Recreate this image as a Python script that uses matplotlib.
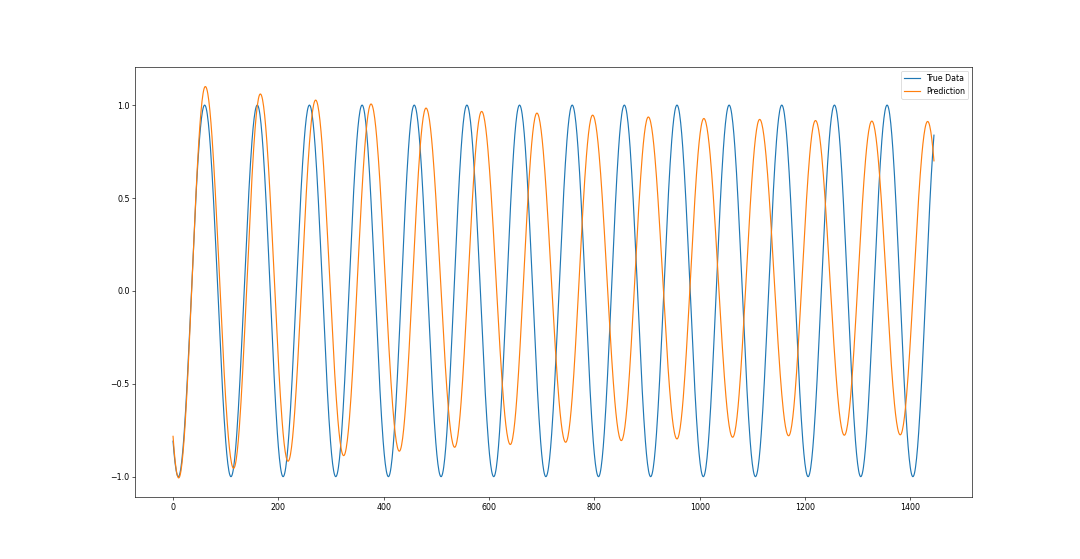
import numpy as np
import matplotlib.pyplot as plt

# ------------------------------------------------------------
# Values (turning points of each curve)
# ------------------------------------------------------------
x_end = 1445

true_ext_x = [10, 60, 110, 160, 209, 259, 309, 359, 409, 458, 509, 558, 609, 658,
              708, 758, 808, 857, 907, 957, 1007, 1056, 1106, 1156, 1206, 1256,
              1306, 1356, 1405]
true_ext_y = [-1.0, 1.0] * 14 + [-1.0]

pred_ext_x = [10.7, 61.3, 115, 165.8, 218.4, 270.8, 324, 376, 429.7, 480.4,
              534.8, 586, 640.5, 691, 745.6, 796.8, 851.3, 902.6, 957, 1008,
              1062.7, 1114, 1169, 1220, 1274.8, 1327, 1381, 1433]
pred_ext_y = [-1.007, 1.10, -0.955, 1.06, -0.917, 1.027, -0.887, 1.006, -0.863,
              0.984, -0.842, 0.966, -0.827, 0.957, -0.815, 0.946, -0.806, 0.936,
              -0.797, 0.928, -0.788, 0.923, -0.780, 0.917, -0.777, 0.914, -0.775,
              0.912]


def trace(ext_x, ext_y, n):
    # smooth half-wave between turning points, mirrored at both ends
    ex = [2 * ext_x[0] - ext_x[1]] + list(ext_x) + [2 * ext_x[-1] - ext_x[-2]]
    ey = [ext_y[1]] + list(ext_y) + [ext_y[-2]]
    xs = np.arange(n + 1)
    ys = np.empty(len(xs))
    for i, xv in enumerate(xs):
        k = np.searchsorted(ex, xv) - 1
        t = (xv - ex[k]) / (ex[k + 1] - ex[k])
        ys[i] = ey[k] + (ey[k + 1] - ey[k]) * (1 - np.cos(np.pi * t)) / 2
    return xs, ys


x_true, y_true = trace(true_ext_x, true_ext_y, x_end)
x_pred, y_pred = trace(pred_ext_x, pred_ext_y, x_end)

# ------------------------------------------------------------
# Plot
# ------------------------------------------------------------
fig = plt.figure(figsize=(19.2, 9.94), dpi=56.25, facecolor='white')
ax = fig.add_subplot(111)
ax.plot(x_true, y_true, label='True Data')
ax.plot(x_pred, y_pred, label='Prediction')
ax.set_yticks([-1.0, -0.5, 0.0, 0.5, 1.0])
ax.legend()
fig.savefig('out.png', dpi=56.25)
